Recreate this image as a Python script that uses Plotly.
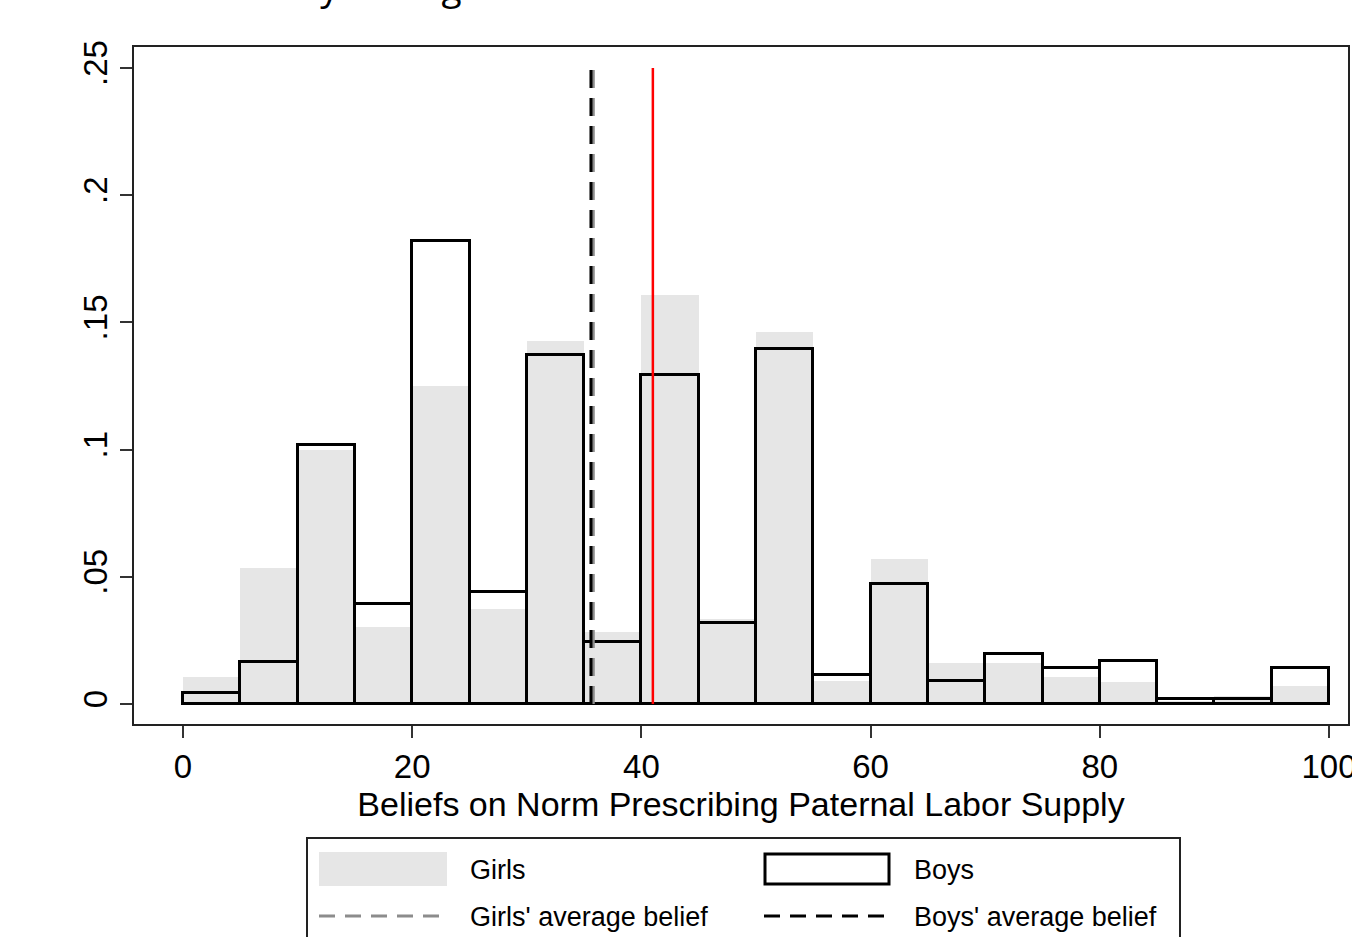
import plotly.graph_objects as go

# Histogram bins (width 5) over belief scores 0-100
bin_left = list(range(0, 100, 5))
bin_width = 5

# Density per bin
girls_density = [0.0105, 0.0535, 0.0998, 0.0303, 0.1250, 0.0373, 0.1427, 0.0283, 0.1606, 0.0335,
                 0.1463, 0.0090, 0.0570, 0.0160, 0.0160, 0.0107, 0.0088, 0.0012, 0.0030, 0.0070]
boys_density = [0.0043, 0.0167, 0.1020, 0.0393, 0.1820, 0.0440, 0.1370, 0.0245, 0.1293, 0.0318,
                0.1395, 0.0114, 0.0470, 0.0092, 0.0197, 0.0140, 0.0169, 0.0018, 0.0018, 0.0143]

# Average beliefs and reference value
girls_mean = 35.8
boys_mean = 35.6
reference_value = 41.0
line_span = [0, 0.25]

x_ticks = [0, 20, 40, 60, 80, 100]
y_ticks = [0, 0.05, 0.1, 0.15, 0.2, 0.25]
y_tick_text = ["0", ".05", ".1", ".15", ".2", ".25"]

legend_labels = ["Girls", "Boys", "Girls' average belief", "Boys' average belief"]
title_text = "Boys and girls"
x_title = "Beliefs on Norm Prescribing Paternal Labor Supply"

GIRLS_FILL = "#e6e6e6"
GIRLS_LINE = "#8c8c8c"

# Plot-area frame in page pixels
L, R, T, B = 134, 1348, 47, 724
W, H = 1352, 937


def px(x):
    return (x - L) / (R - L)


def py(y):
    return (B - y) / (B - T)


centers = [b + bin_width / 2 for b in bin_left]

fig = go.Figure()
fig.add_trace(go.Bar(x=centers, y=girls_density, width=bin_width,
                     marker=dict(color=GIRLS_FILL, line=dict(width=0)), name="Girls"))
fig.add_trace(go.Bar(x=centers, y=boys_density, width=bin_width,
                     marker=dict(color="rgba(0,0,0,0)", line=dict(color="black", width=3)),
                     name="Boys"))
fig.add_trace(go.Scatter(x=[girls_mean, girls_mean], y=line_span, mode="lines",
                         line=dict(color=GIRLS_LINE, width=3, dash="18px,10px")))
fig.add_trace(go.Scatter(x=[boys_mean, boys_mean], y=line_span, mode="lines",
                         line=dict(color="black", width=3, dash="18px,10px")))
fig.add_trace(go.Scatter(x=[reference_value, reference_value], y=line_span, mode="lines",
                         line=dict(color="red", width=2.5)))

x_scale = (1329 - 183) / 100.0
y_scale = (704 - 68) / 0.25
x_range = [(L - 183) / x_scale, (R - 183) / x_scale]
y_range = [-(B - 704) / y_scale, 0.25 + (68 - T) / y_scale]

axis_font = dict(family="Liberation Sans, Arial, sans-serif", size=33, color="black")
title_font = dict(family="Liberation Sans, Arial, sans-serif", size=34, color="black")
legend_font = dict(family="Liberation Sans, Arial, sans-serif", size=27, color="black")

fig.update_layout(
    width=W, height=H,
    margin=dict(l=L, r=W - R, t=T, b=H - B, pad=0, autoexpand=False),
    paper_bgcolor="white", plot_bgcolor="white",
    barmode="overlay", bargap=0, showlegend=False,
    xaxis=dict(range=x_range, tickvals=x_ticks, ticks="outside", ticklen=12, tickwidth=2,
               tickcolor="#333", showline=True, mirror=True, linecolor="#222", linewidth=2,
               showgrid=False, zeroline=False, tickfont=axis_font,
               ticklabeloverflow="allow", automargin=False,
               title=dict(text=x_title, font=title_font, standoff=0)),
    yaxis=dict(range=y_range, tickvals=y_ticks, ticktext=y_tick_text, tickangle=-90,
               ticks="outside", ticklen=12, tickwidth=2, tickcolor="#333",
               showline=True, mirror=True, linecolor="#222", linewidth=2,
               showgrid=False, zeroline=False, tickfont=axis_font, automargin=False),
)

shapes = []
annotations = []

# Legend box and keys
shapes.append(dict(type="rect", xref="paper", yref="paper", x0=px(307), x1=px(1180),
                   y0=py(960), y1=py(838), line=dict(color="#222", width=2),
                   fillcolor="white"))
shapes.append(dict(type="rect", xref="paper", yref="paper", x0=px(319), x1=px(447),
                   y0=py(886), y1=py(852), line=dict(width=0), fillcolor=GIRLS_FILL))
shapes.append(dict(type="rect", xref="paper", yref="paper", x0=px(765), x1=px(889),
                   y0=py(884), y1=py(854), line=dict(color="black", width=3),
                   fillcolor="white"))
shapes.append(dict(type="line", xref="paper", yref="paper", x0=px(319), x1=px(447),
                   y0=py(916), y1=py(916), line=dict(color=GIRLS_LINE, width=3, dash="16px,10px")))
shapes.append(dict(type="line", xref="paper", yref="paper", x0=px(764), x1=px(890),
                   y0=py(916), y1=py(916), line=dict(color="black", width=3, dash="16px,10px")))

for label, (lx, ly) in zip(legend_labels, [(468, 870), (912, 870), (468, 917), (912, 917)]):
    annotations.append(dict(text=label, xref="paper", yref="paper", x=px(lx), y=py(ly),
                            xanchor="left", yanchor="middle", showarrow=False,
                            font=legend_font))

# Title line
annotations.append(dict(text=title_text, xref="paper", yref="paper", x=px(272), y=py(12.5),
                        xanchor="left", yanchor="bottom", showarrow=False,
                        font=dict(family="Open Sans, sans-serif", size=37, color="black")))

fig.update_layout(shapes=shapes, annotations=annotations)

fig.write_html("out.html")
